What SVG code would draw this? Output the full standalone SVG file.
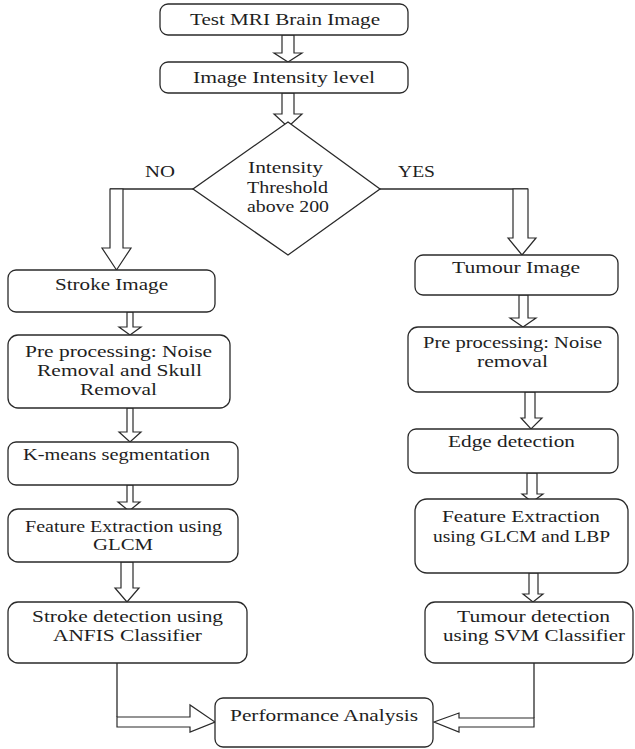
<svg xmlns="http://www.w3.org/2000/svg" width="635" height="749" viewBox="0 0 635 749">
<style>
.box{fill:#fff;stroke:#2a2a2a;stroke-width:1.3}
.ar{fill:#fff;stroke:#2a2a2a;stroke-width:1.2;stroke-linejoin:miter}
.ln{fill:none;stroke:#2a2a2a;stroke-width:1.3}
text{font-family:"Liberation Serif","Times New Roman",serif;font-size:16px;fill:#1e1e1e}
</style>
<rect width="635" height="749" fill="#fff"/>
<g id="connectors">
<path class="ar" d="M282,35 V53 H274 L288,62 L302,53 H294 V35 Z"/>
<path class="ar" d="M282,93 V114 H274 L288,127 L302,114 H294 V93 Z"/>
<path class="ln" d="M193,189 H110"/>
<path class="ar" d="M110,189 V248 H102 L116.5,270 L131,248 H123 V189 Z"/>
<path class="ln" d="M380,189 H528"/>
<path class="ar" d="M513,189 V238 H508 L522,255 L536,238 H528 V189 Z"/>
<path class="ar" d="M127,312 V327 H119 L130,335 L141,327 H133 V312 Z"/>
<path class="ar" d="M127,408 V432 H119 L130,442 L141,432 H133 V408 Z"/>
<path class="ar" d="M127,485 V502 H118 L129,511 L140,502 H133 V485 Z"/>
<path class="ar" d="M121,562 V588 H115 L127,602 L139,588 H133 V562 Z"/>
<path class="ar" d="M519,295 V318 H510 L523,327 L536,318 H528 V295 Z"/>
<path class="ar" d="M525,392 V418 H521 L531,429 L542,418 H535 V392 Z"/>
<path class="ar" d="M527,473 V494 H522 L532,502 L543,494 H537 V473 Z"/>
<path class="ar" d="M529,573 V594 H523 L533,602 L543,594 H538 V573 Z"/>
<path class="ln" d="M117,663 V717"/>
<path class="ar" d="M117,717 H190 V705 L215,722 L190,732 V727 H117 Z"/>
<path class="ln" d="M534,663 V718"/>
<path class="ar" d="M534,718 H459 V713 L434,722 L459,732 V727 H534 Z"/>
</g>
<g id="n1"><rect class="box" x="160" y="4" width="248" height="31" rx="8"/><text x="190" y="25" textLength="190" lengthAdjust="spacingAndGlyphs">Test MRI Brain Image</text></g>
<g id="n2"><rect class="box" x="160" y="62" width="248" height="31" rx="8"/><text x="193" y="83" textLength="182" lengthAdjust="spacingAndGlyphs">Image Intensity level</text></g>
<g id="n3"><path class="box" d="M288,122 L380,189 L288,255 L193,189 Z"/>
<text x="248" y="173" textLength="75" lengthAdjust="spacingAndGlyphs">Intensity</text>
<text x="247" y="193" textLength="81" lengthAdjust="spacingAndGlyphs">Threshold</text>
<text x="247" y="212" textLength="82" lengthAdjust="spacingAndGlyphs">above 200</text></g>
<text x="145" y="177" textLength="30" lengthAdjust="spacingAndGlyphs">NO</text>
<text x="398" y="177" textLength="37" lengthAdjust="spacingAndGlyphs">YES</text>
<g id="n4"><rect class="box" x="8" y="270" width="207" height="42" rx="8"/><text x="55" y="290" textLength="113" lengthAdjust="spacingAndGlyphs">Stroke Image</text></g>
<g id="n5"><rect class="box" x="8" y="335" width="222" height="73" rx="10"/>
<text x="25" y="357" textLength="187" lengthAdjust="spacingAndGlyphs">Pre processing: Noise</text>
<text x="37" y="376" textLength="165" lengthAdjust="spacingAndGlyphs">Removal and Skull</text>
<text x="80" y="395" textLength="77" lengthAdjust="spacingAndGlyphs">Removal</text></g>
<g id="n6"><rect class="box" x="8" y="442" width="230" height="43" rx="8"/><text x="23" y="460" textLength="187" lengthAdjust="spacingAndGlyphs">K-means segmentation</text></g>
<g id="n7"><rect class="box" x="8" y="509" width="230" height="53" rx="10"/>
<text x="25" y="532" textLength="197" lengthAdjust="spacingAndGlyphs">Feature Extraction using</text>
<text x="93" y="550" textLength="60" lengthAdjust="spacingAndGlyphs">GLCM</text></g>
<g id="n8"><rect class="box" x="8" y="602" width="239" height="61" rx="10"/>
<text x="32" y="622" textLength="191" lengthAdjust="spacingAndGlyphs">Stroke detection using</text>
<text x="53" y="641" textLength="149" lengthAdjust="spacingAndGlyphs">ANFIS Classifier</text></g>
<g id="n9"><rect class="box" x="415" y="255" width="203" height="40" rx="8"/><text x="452" y="273" textLength="128" lengthAdjust="spacingAndGlyphs">Tumour Image</text></g>
<g id="n10"><rect class="box" x="408" y="327" width="210" height="65" rx="10"/>
<text x="423" y="348" textLength="179" lengthAdjust="spacingAndGlyphs">Pre processing: Noise</text>
<text x="477" y="367" textLength="71" lengthAdjust="spacingAndGlyphs">removal</text></g>
<g id="n11"><rect class="box" x="408" y="429" width="210" height="44" rx="8"/><text x="448" y="447" textLength="127" lengthAdjust="spacingAndGlyphs">Edge detection</text></g>
<g id="n12"><rect class="box" x="415" y="499" width="213" height="74" rx="12"/>
<text x="442" y="522" textLength="158" lengthAdjust="spacingAndGlyphs">Feature Extraction</text>
<text x="433" y="542" textLength="177" lengthAdjust="spacingAndGlyphs">using GLCM and LBP</text></g>
<g id="n13"><rect class="box" x="425" y="602" width="208" height="61" rx="10"/>
<text x="457" y="622" textLength="153" lengthAdjust="spacingAndGlyphs">Tumour detection</text>
<text x="443" y="641" textLength="182" lengthAdjust="spacingAndGlyphs">using SVM Classifier</text></g>
<g id="n14"><rect class="box" x="215" y="698" width="218" height="49" rx="8"/><text x="230" y="721" textLength="188" lengthAdjust="spacingAndGlyphs">Performance Analysis</text></g>
</svg>
